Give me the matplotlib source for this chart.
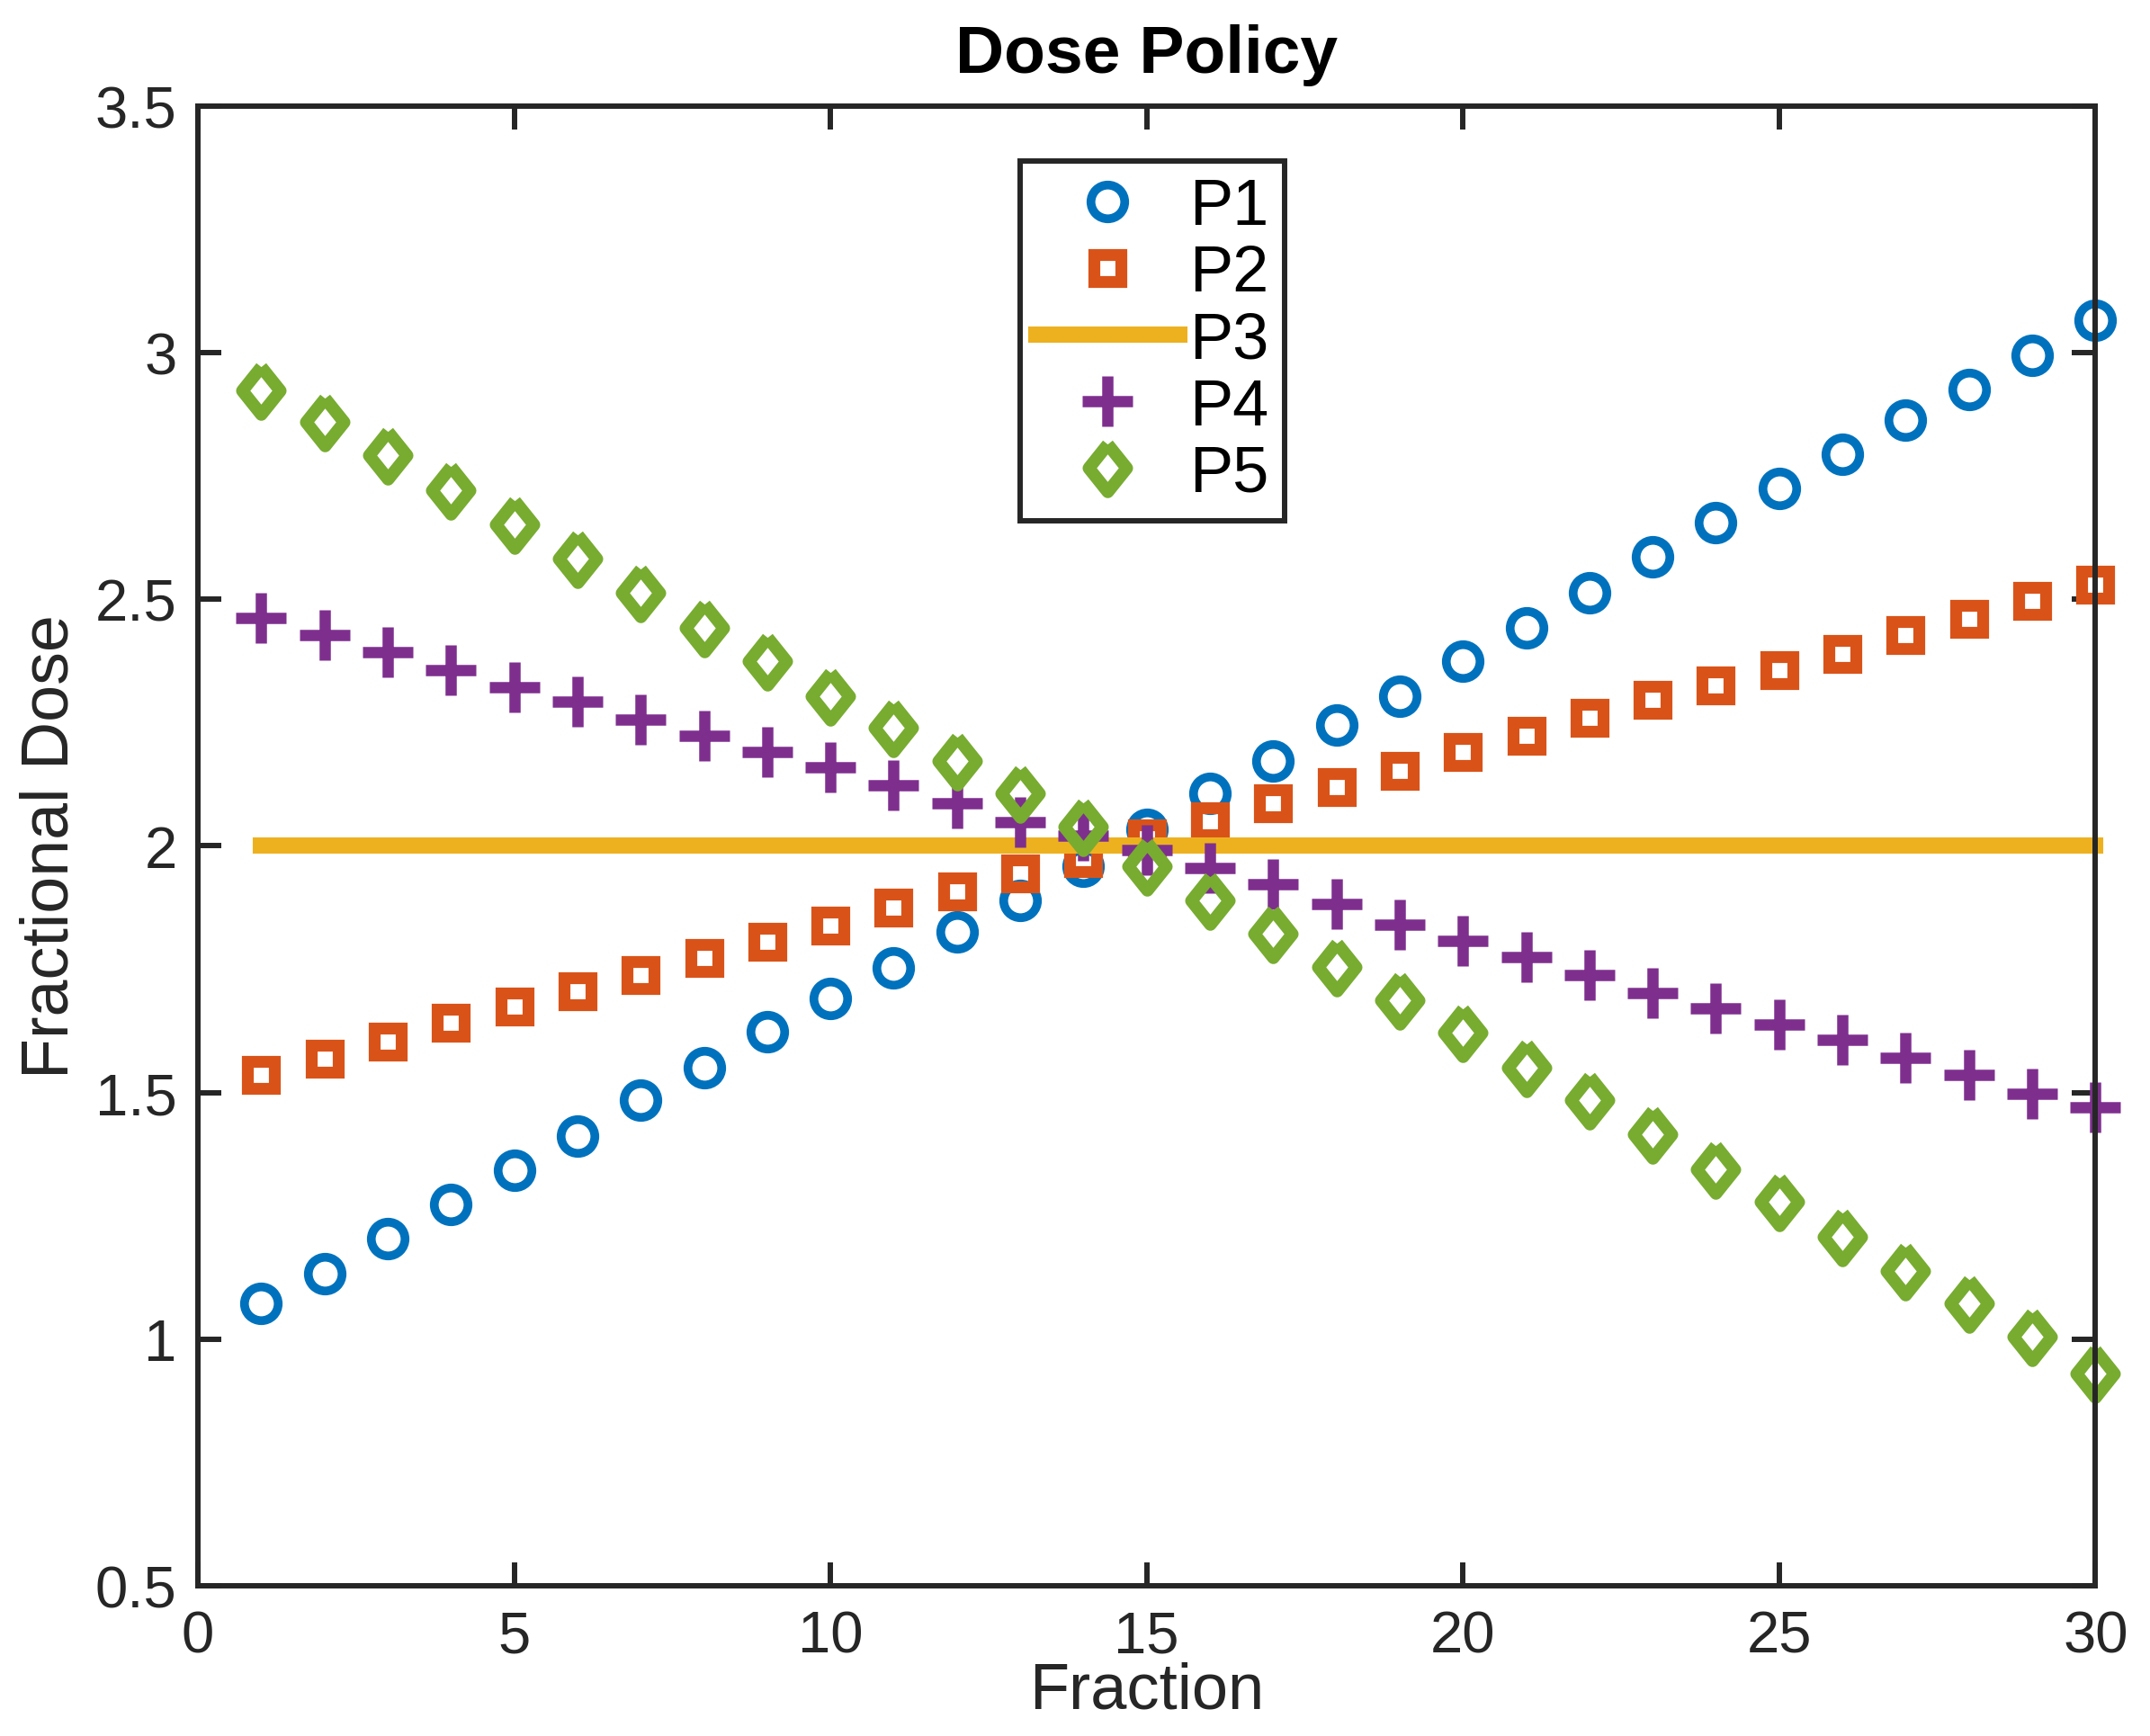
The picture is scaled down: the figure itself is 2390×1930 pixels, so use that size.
import matplotlib
matplotlib.use("Agg")
from matplotlib import pyplot as plt
from matplotlib.markers import MarkerStyle

# values
fractions = list(range(1, 31))

p1 = [1.072, 1.133, 1.203, 1.273, 1.342, 1.412, 1.484, 1.551, 1.624, 1.691,
      1.752, 1.825, 1.889, 1.958, 2.034, 2.106, 2.173, 2.245, 2.304, 2.374,
      2.443, 2.513, 2.586, 2.655, 2.725, 2.795, 2.864, 2.926, 2.995, 3.065]

p2 = [1.535, 1.568, 1.604, 1.641, 1.674, 1.705, 1.738, 1.772, 1.805, 1.838,
      1.875, 1.908, 1.944, 1.975, 2.015, 2.050, 2.087, 2.120, 2.153, 2.190,
      2.223, 2.259, 2.296, 2.326, 2.357, 2.390, 2.427, 2.460, 2.496, 2.530]

p3 = [2.0, 2.0, 2.0, 2.0, 2.0, 2.0, 2.0, 2.0, 2.0, 2.0,
      2.0, 2.0, 2.0, 2.0, 2.0, 2.0, 2.0, 2.0, 2.0, 2.0,
      2.0, 2.0, 2.0, 2.0, 2.0, 2.0, 2.0, 2.0, 2.0, 2.0]

p4 = [2.463, 2.427, 2.393, 2.357, 2.321, 2.293, 2.257, 2.223, 2.190, 2.159,
      2.123, 2.087, 2.048, 2.020, 1.992, 1.955, 1.922, 1.883, 1.841, 1.808,
      1.774, 1.738, 1.702, 1.671, 1.638, 1.607, 1.571, 1.535, 1.498, 1.470]

p5 = [2.923, 2.859, 2.792, 2.722, 2.652, 2.583, 2.513, 2.443, 2.374, 2.304,
      2.240, 2.173, 2.106, 2.039, 1.958, 1.889, 1.822, 1.755, 1.688, 1.621,
      1.551, 1.484, 1.415, 1.345, 1.278, 1.208, 1.139, 1.072, 1.005, 0.930]

x_ticks = [0, 5, 10, 15, 20, 25, 30]
y_ticks = [0.5, 1, 1.5, 2, 2.5, 3, 3.5]
y_tick_labels = ["0.5", "1", "1.5", "2", "2.5", "3", "3.5"]

DARK = "#262626"


def main():
    plt.rcParams["font.family"] = ["Liberation Sans", "DejaVu Sans"]

    fig = plt.figure(figsize=(23.9, 19.31), dpi=100)
    ax = fig.add_axes([0.0921, 0.0865, 0.8825, 0.8519])

    diamond = MarkerStyle([(0, 1), (0.8, 0), (0, -1), (-0.8, 0), (0, 1)],
                          joinstyle="miter")

    ax.plot(fractions, p1, linestyle="none", marker="o", markersize=27,
            markeredgewidth=7, markerfacecolor="none",
            markeredgecolor="#0072BD", label="P1", clip_on=False)
    ax.plot(fractions, p2, linestyle="none", marker="s", markersize=22,
            markeredgewidth=9.5, markerfacecolor="none",
            markeredgecolor="#D95319", label="P2", clip_on=False)
    ax.plot(fractions, p3, color="#EDB120", linewidth=13, label="P3",
            clip_on=False)
    ax.plot(fractions, p4, linestyle="none", marker="+", markersize=40,
            markeredgewidth=9, markeredgecolor="#7E2F8E", label="P4",
            clip_on=False)
    ax.plot(fractions, p5, linestyle="none", marker=diamond, markersize=38,
            markeredgewidth=10, markerfacecolor="none",
            markeredgecolor="#77AC30", label="P5", clip_on=False)

    ax.set_xlim(0, 30)
    ax.set_ylim(0.5, 3.5)
    ax.set_xticks(x_ticks)
    ax.set_yticks(y_ticks)
    ax.set_yticklabels(y_tick_labels)

    for spine in ax.spines.values():
        spine.set_linewidth(4.3)
        spine.set_color(DARK)
    ax.tick_params(direction="in", length=19, width=4.3, color=DARK,
                   labelcolor=DARK, labelsize=47, top=True, right=True)
    ax.tick_params(axis="x", pad=19)
    ax.tick_params(axis="y", pad=17)

    ax.set_xlabel("Fraction", fontsize=52, color=DARK, labelpad=-2)
    ax.set_ylabel("Fractional Dose", fontsize=53, color=DARK, labelpad=11)
    ax.set_title("Dose Policy", fontsize=54, fontweight="bold", pad=27)

    leg = ax.legend(loc="upper center", bbox_to_anchor=(0.503, 0.963),
                    borderaxespad=0, fontsize=52, numpoints=1,
                    handlelength=2.2, handletextpad=0.15, labelspacing=0.1,
                    borderpad=0.25, fancybox=False, framealpha=1,
                    edgecolor=DARK)
    leg.get_frame().set_linewidth(4.3)

    fig.savefig("out.png", dpi=100)


if __name__ == "__main__":
    main()
